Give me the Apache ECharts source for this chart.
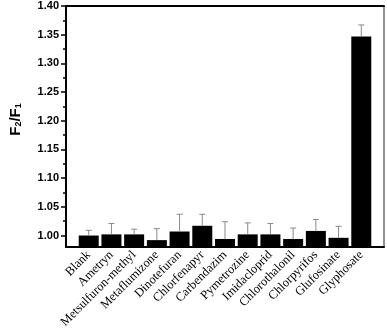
<!DOCTYPE html>
<html>
<head>
<meta charset="utf-8">
<script src="https://cdn.jsdelivr.net/npm/echarts@6/dist/echarts.min.js"></script>
<style>
  html, body { margin: 0; padding: 0; background: #fff; }
  #chart { width: 387px; height: 333px; }
</style>
</head>
<body>
<div id="chart"></div>
<script>
let categories = ['Blank', 'Ametryn', 'Metsulfuron-methyl', 'Metaflumizone', 'Dinotefuran', 'Chlorfenapyr',
  'Carbendazim', 'Pymetrozine', 'Imidacloprid', 'Chlorothalonil', 'Chlorpyrifos', 'Glufosinate', 'Glyphosate']
let ratios = [1.000, 1.002, 1.002, 0.992, 1.007, 1.017, 0.994, 1.002, 1.002, 0.994, 1.008, 0.996, 1.347]
let errors = [0.009, 0.019, 0.009, 0.020, 0.030, 0.020, 0.030, 0.020, 0.019, 0.019, 0.020, 0.020, 0.020]
let yTicks = [1.00, 1.05, 1.10, 1.15, 1.20, 1.25, 1.30, 1.35, 1.40]
let yMinorTicks = [1.025, 1.075, 1.125, 1.175, 1.225, 1.275, 1.325, 1.375]

let yMin = 0.98
let yMax = 1.40

let dom = document.getElementById('chart')
let myChart = echarts.init(dom)

// upward-only error bars with a small cap
function renderErr (params, api) {
  let x = api.value(0)
  let lo = api.coord([x, api.value(1)])
  let hi = api.coord([x, api.value(2)])
  let half = 3
  let style = { stroke: '#8a8a8a', lineWidth: 1 }
  return {
    type: 'group',
    children: [
      { type: 'line', shape: { x1: lo[0], y1: lo[1], x2: hi[0], y2: hi[1] }, style: style },
      { type: 'line', shape: { x1: hi[0] - half, y1: hi[1], x2: hi[0] + half, y2: hi[1] }, style: style }
    ]
  }
}

let option = {
  animation: false,
  grid: {
    left: 50,
    top: 6,
    width: 334,
    height: 241,
    show: true,
    borderColor: '#222',
    borderWidth: 1
  },
  xAxis: [{
    type: 'value',
    min: -1,
    max: 13,
    splitLine: { show: false },
    axisTick: { show: false },
    axisLine: { onZero: false, lineStyle: { color: '#000', width: 2 } },
    axisLabel: {
      customValues: categories.map((c, i) => i),
      formatter: function (v) {
        return categories[Math.round(v)]
      },
      rotate: 45,
      margin: 6,
      color: '#000',
      fontFamily: 'Liberation Serif',
      fontSize: 12.5
    }
  }, {
    type: 'value',
    position: 'top',
    min: -1,
    max: 13,
    splitLine: { show: false },
    axisTick: { show: false },
    axisLabel: { show: false },
    axisLine: { onZero: false, lineStyle: { color: '#000', width: 2 } }
  }],
  yAxis: [{
    type: 'value',
    min: yMin,
    max: yMax,
    startValue: yMin,
    name: 'F{sub|2}/F{sub|1}',
    nameLocation: 'middle',
    nameRotate: 90,
    nameGap: 43,
    nameTextStyle: {
      color: '#000',
      fontFamily: 'Liberation Sans',
      fontWeight: 'bold',
      fontSize: 15,
      padding: [0, 0, 0, 14],
      rich: {
        sub: {
          fontFamily: 'Liberation Sans',
          fontWeight: 'bold',
          fontSize: 9,
          verticalAlign: 'bottom',
          padding: [6, 0, 0, 0]
        }
      }
    },
    splitLine: { show: false },
    axisLine: { onZero: false, lineStyle: { color: '#000', width: 2 } },
    axisTick: { customValues: yTicks, length: 5, lineStyle: { color: '#000', width: 1.5 } },
    axisLabel: {
      customValues: yTicks,
      formatter: function (v) {
        return v.toFixed(2)
      },
      margin: 7,
      color: '#000',
      fontFamily: 'Liberation Sans',
      fontWeight: 'bold',
      fontSize: 11
    }
  }, {
    type: 'value',
    position: 'left',
    min: yMin,
    max: yMax,
    splitLine: { show: false },
    axisLine: { show: false, onZero: false },
    axisTick: { customValues: yMinorTicks, length: 3, lineStyle: { color: '#000', width: 1.5 } },
    axisLabel: { show: false }
  }],
  series: [{
    type: 'bar',
    data: ratios.map((v, i) => [i, v]),
    barWidth: 20,
    itemStyle: { color: '#000' },
    z: 2
  }, {
    type: 'custom',
    renderItem: renderErr,
    data: ratios.map((v, i) => [i, v, v + errors[i]]),
    z: 3
  }]
}

myChart.setOption(option)
</script>
</body>
</html>
